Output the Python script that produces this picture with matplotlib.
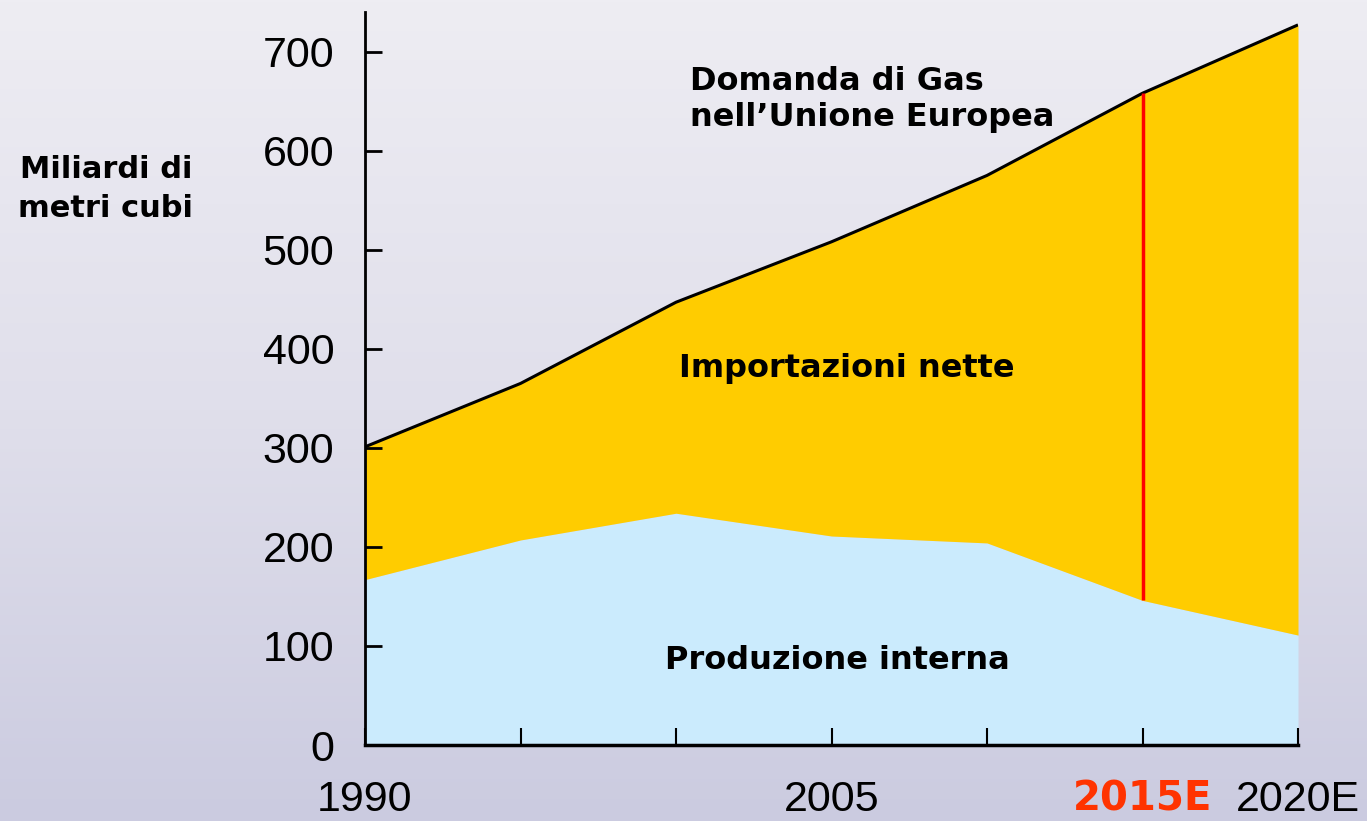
import numpy as np
import matplotlib
matplotlib.use("Agg")
from matplotlib import pyplot as plt
from matplotlib.colors import LinearSegmentedColormap

# data (miliardi di m3)
anni = [1990, 1995, 2000, 2005, 2010, 2015, 2020]
domanda = [301, 365, 447, 508, 575, 658, 727]
produzione = [167, 207, 234, 211, 204, 146, 111]
xtick_pos = [1990, 1995, 2000, 2005, 2010, 2015, 2020]
xtick_lab = ["1990", "", "", "2005", "", "2015E", "2020E"]
yticks = [0, 100, 200, 300, 400, 500, 600, 700]

narrow = ["Liberation Sans", "DejaVu Sans"]
plt.rcParams['font.family'] = ["DejaVu Sans"]

fig = plt.figure(figsize=(13.67, 8.21), dpi=100)

# sky-ish background
bg = fig.add_axes([0, 0, 1, 1], zorder=0)
grad = np.linspace(0, 1, 256).reshape(-1, 1)
cmap = LinearSegmentedColormap.from_list("sky", ["#eeedf3", "#e0dfeb", "#cbcbe0"])
bg.imshow(grad, aspect="auto", cmap=cmap, extent=[0, 1, 0, 1], origin="upper")
bg.axis("off")

ax = fig.add_axes([365/1367, 76/821, (1298-365)/1367, (745-12)/821], zorder=1)
ax.patch.set_alpha(0)

ax.fill_between(anni, 0, produzione, color="#cbebfd", lw=0)
ax.fill_between(anni, produzione, domanda, color="#ffcc00", lw=0)
ax.plot(anni, domanda, color="black", lw=2.2, solid_capstyle="butt")

i15 = anni.index(2015)
ax.vlines(2015, produzione[i15], domanda[i15], color="red", lw=2.5)

ax.set_xlim(1990, 2020)
ax.set_ylim(0, 740)
for s in ["top", "right"]:
    ax.spines[s].set_visible(False)
ax.spines["left"].set_linewidth(2)
ax.spines["bottom"].set_linewidth(2.5)

ax.set_yticks(yticks)
ax.set_yticklabels([str(v) for v in yticks], family=narrow, fontsize=31)
ax.tick_params(axis="y", direction="in", length=12, width=2, pad=22)

ax.set_xticks(xtick_pos)
ax.set_xticklabels(xtick_lab, family=narrow, fontsize=31)
ax.tick_params(axis="x", direction="in", length=12, width=1.5, pad=25)
lbl = ax.get_xticklabels()[5]
lbl.set_color("#ff3300")
lbl.set_fontweight("bold")
lbl.set_family("DejaVu Sans")
lbl.set_fontsize(29)

ax.text(2005.5, 380, "Importazioni nette", ha="center", va="center",
        fontsize=23, fontweight="bold")
ax.text(2005.2, 85, "Produzione interna", ha="center", va="center",
        fontsize=23, fontweight="bold")
ax.text(2000.45, 652, "Domanda di Gas\nnell\u2019Unione Europea", ha="left", va="center",
        fontsize=23, fontweight="bold", linespacing=1.2)

fig.text(106/1367, 1 - 189/821, "Miliardi di\nmetri cubi", ha="center", va="center",
         fontsize=22, fontweight="bold", linespacing=1.4)

fig.savefig("out.png", dpi=100)
